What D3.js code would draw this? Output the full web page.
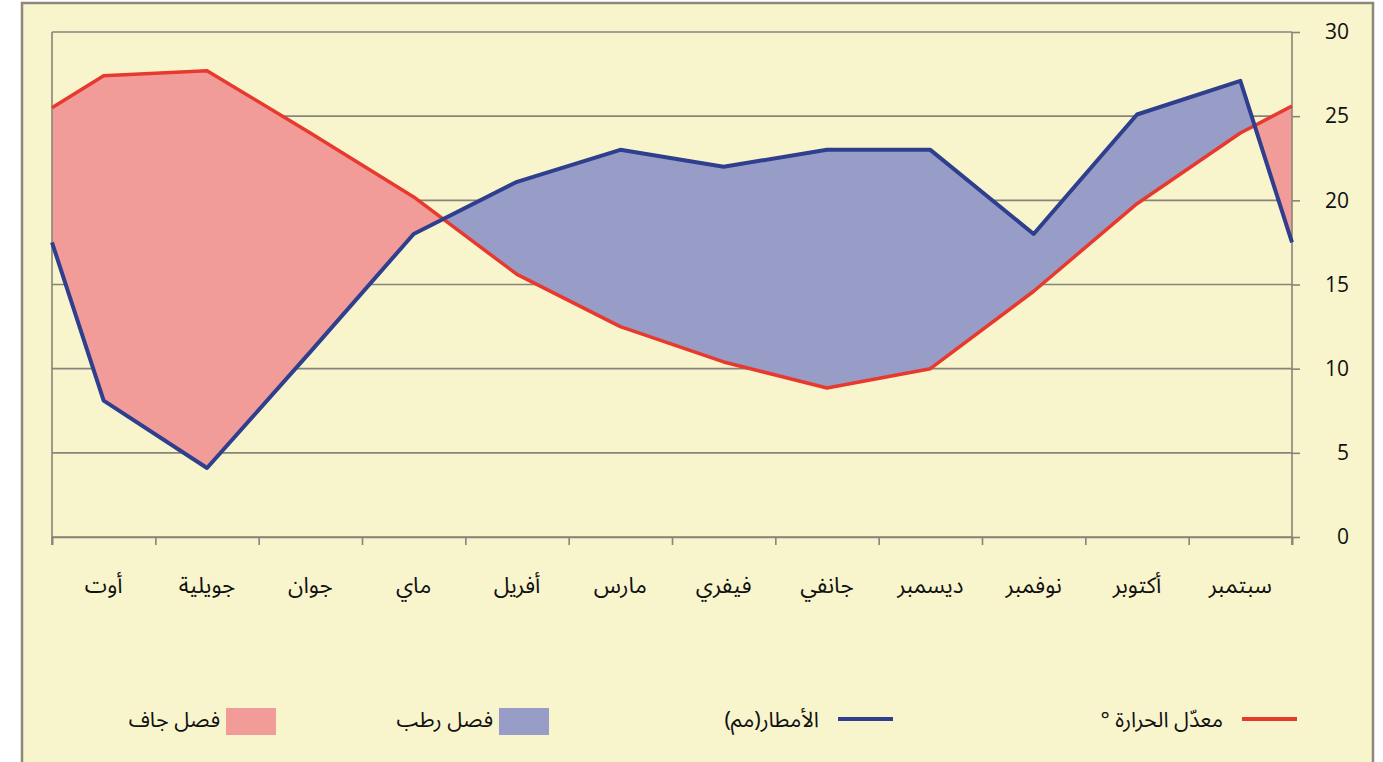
<!DOCTYPE html>
<html>
<head>
<meta charset="utf-8">
<script src="https://cdn.jsdelivr.net/npm/d3@7/dist/d3.min.js"></script>
<style>
  body { margin: 0; background: #fff; }
  svg { display: block; }
  .ar { font-family: "Noto Sans Arabic", "DejaVu Sans", sans-serif; fill: #111; }
  .num { font-family: "Open Sans", "Lato", sans-serif; fill: #111; }
</style>
</head>
<body>
<svg width="1383" height="762"></svg>
<script>
// months in calendar order, september first (drawn right to left)
const months = ["سبتمبر", "أكتوبر", "نوفمبر", "ديسمبر", "جانفي", "فيفري", "مارس", "أفريل", "ماي", "جوان", "جويلية", "أوت"];
const temperature = [24.0, 19.8, 14.6, 10.0, 8.85, 10.4, 12.5, 15.6, 20.2, 24.0, 27.7, 27.4];
const rainfall = [27.1, 25.1, 18.0, 23.0, 23.0, 22.0, 23.0, 21.1, 18.0, 11.0, 4.1, 8.1];
// values where the curves meet the left and right edges of the plot
const tempEdge = [25.6, 25.5];   // [right edge, left edge]
const rainEdge = [17.5, 17.5];
const yTicks = [0, 5, 10, 15, 20, 25, 30];
const legendItems = [
  { label: "معدّل الحرارة °", type: "line", color: "#e8392f" },
  { label: "الأمطار(مم)", type: "line", color: "#2f3f8e" },
  { label: "فصل رطب", type: "box", color: "#989dc8" },
  { label: "فصل جاف", type: "box", color: "#f29c9a" }
];

const RLM = "\u200F";
const svg = d3.select("svg");
const plotL = 52, plotR = 1292, plotT = 32, plotB = 537;

// outer frame
svg.append("rect")
  .attr("x", 22).attr("y", 3)
  .attr("width", 1351).attr("height", 800)
  .attr("fill", "#f8f5cd")
  .attr("stroke", "#8e877b").attr("stroke-width", 2.5);

const x = d3.scaleLinear().domain([-0.5, 11.5]).range([plotR, plotL]);
const y = d3.scaleLinear().domain([0, 30]).range([plotB, plotT]);
const band = d3.scaleBand().domain(months).range([plotR, plotL]);

const pts = [{ i: -0.5, t: tempEdge[0], r: rainEdge[0] }]
  .concat(months.map((m, i) => ({ i: i, t: temperature[i], r: rainfall[i] })))
  .concat([{ i: 11.5, t: tempEdge[1], r: rainEdge[1] }]);

// gridlines
svg.append("g")
  .selectAll("line")
  .data(yTicks)
  .enter()
  .append("line")
  .attr("x1", plotL).attr("x2", plotR)
  .attr("y1", d => y(d)).attr("y2", d => y(d))
  .attr("stroke", "#87847a").attr("stroke-width", 1.6);

// fills between the curves
const defs = svg.append("defs");
defs.append("clipPath").attr("id", "dry")
  .append("path")
  .attr("d", d3.area().x(d => x(d.i)).y0(0).y1(d => y(d.r))(pts));
defs.append("clipPath").attr("id", "wet")
  .append("path")
  .attr("d", d3.area().x(d => x(d.i)).y0(d => y(d.r)).y1(plotB)(pts));

const between = d3.area()
  .x(d => x(d.i))
  .y0(d => y(d.r))
  .y1(d => y(d.t));

svg.append("path").datum(pts)
  .attr("d", between)
  .attr("fill", "#f29c9a")
  .attr("clip-path", "url(#dry)");
svg.append("path").datum(pts)
  .attr("d", between)
  .attr("fill", "#989dc8")
  .attr("clip-path", "url(#wet)");

// axes
const yAxis = svg.append("g")
  .attr("transform", `translate(${plotR},0)`)
  .call(d3.axisRight(y).tickValues(yTicks).tickSize(8).tickPadding(10));
yAxis.select(".domain").remove();
yAxis.selectAll("line").attr("stroke", "#87847a").attr("stroke-width", 1.6);
yAxis.selectAll("text")
  .attr("class", "num")
  .attr("x", 57)
  .attr("text-anchor", "end")
  .attr("font-size", 21);
yAxis.attr("font-family", null).attr("font-size", null);

svg.append("line")
  .attr("x1", plotR).attr("x2", plotR)
  .attr("y1", plotT).attr("y2", plotB + 8)
  .attr("stroke", "#87847a").attr("stroke-width", 1.6);
svg.append("line")
  .attr("x1", plotL).attr("x2", plotL)
  .attr("y1", plotT).attr("y2", plotB + 8)
  .attr("stroke", "#87847a").attr("stroke-width", 1.6);

const xAxis = svg.append("g")
  .attr("transform", `translate(0,${plotB})`)
  .call(d3.axisBottom(x).tickValues(d3.range(-0.5, 12, 1)).tickSize(8).tickFormat(""));
xAxis.select(".domain").attr("stroke", "#87847a").attr("stroke-width", 1.6);
xAxis.selectAll("line").attr("stroke", "#87847a").attr("stroke-width", 1.6);

svg.append("g")
  .selectAll("text")
  .data(months)
  .enter()
  .append("text")
  .attr("class", "ar")
  .attr("x", d => band(d) + band.bandwidth() / 2)
  .attr("y", 593)
  .attr("text-anchor", "middle")
  .attr("font-size", 22.5)
  .text(d => d);

// lines
const line = key => d3.line().x(d => x(d.i)).y(d => y(d[key]));
svg.append("path").datum(pts)
  .attr("d", line("t"))
  .attr("fill", "none")
  .attr("stroke", "#e8392f")
  .attr("stroke-width", 3.5)
  .attr("stroke-linejoin", "round");
svg.append("path").datum(pts)
  .attr("d", line("r"))
  .attr("fill", "none")
  .attr("stroke", "#2f3f8e")
  .attr("stroke-width", 4)
  .attr("stroke-linejoin", "round");

// legend
const legendX = [1297, 893, 549, 276];
const lg = svg.append("g")
  .selectAll("g")
  .data(legendItems)
  .enter()
  .append("g")
  .attr("transform", (d, i) => `translate(${legendX[i]},719)`);

lg.filter(d => d.type === "line")
  .append("line")
  .attr("x1", -55).attr("x2", 0)
  .attr("stroke", d => d.color)
  .attr("stroke-width", 4);
lg.filter(d => d.type === "box")
  .append("rect")
  .attr("x", -50).attr("y", -11)
  .attr("width", 50).attr("height", 27)
  .attr("fill", d => d.color);
lg.append("text")
  .attr("class", "ar")
  .attr("x", d => d.type === "line" ? -74 : -56)
  .attr("y", 8)
  .attr("text-anchor", "end")
  .attr("font-size", 21.5)
  .text(d => d.label + RLM);
</script>
</body>
</html>
